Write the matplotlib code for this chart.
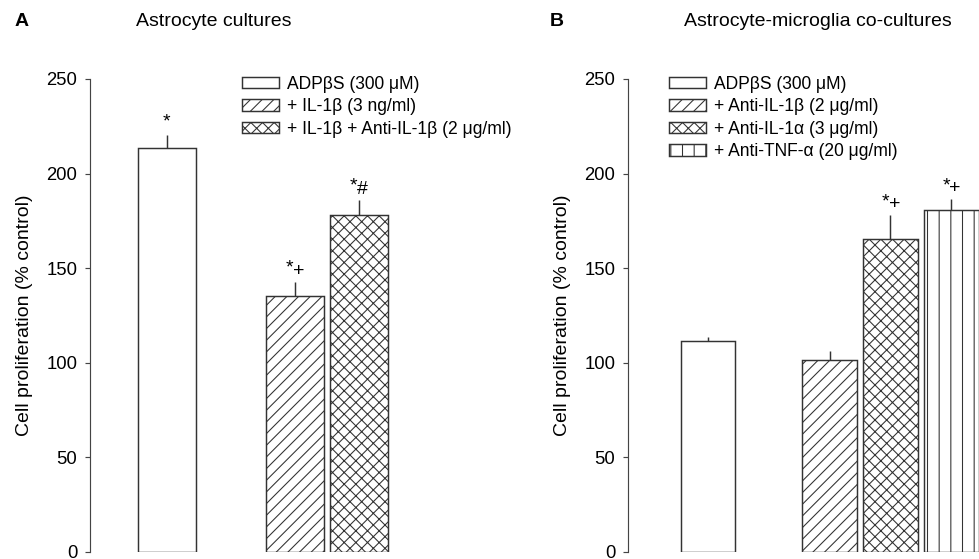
import matplotlib.pyplot as plt
import numpy as np

plt.rcParams['font.family'] = ['Liberation Sans', 'DejaVu Sans']
plt.rcParams['hatch.linewidth'] = 0.55

DPI = 140
W, H = 979, 559

# panel A: astrocyte cultures
a_labels = ['ADPβS (300 μM)', '+ IL-1β (3 ng/ml)', '+ IL-1β + Anti-IL-1β (2 μg/ml)']
a_means = [213.5, 135.3, 178.3]
a_errs = [7.0, 7.5, 8.0]
a_marks = ['*', '*+', '*#']

# panel B: astrocyte-microglia co-cultures
b_labels = ['ADPβS (300 μM)', '+ Anti-IL-1β (2 μg/ml)', '+ Anti-IL-1α (3 μg/ml)',
            '+ Anti-TNF-α (20 μg/ml)']
b_means = [111.5, 101.5, 165.5, 180.5]
b_errs = [2.0, 5.0, 12.5, 6.0]
b_marks = ['', '', '*+', '*+']

hatches = ['', '////', 'xxxx', '||']
edge = '#333333'


def px(x, y):
    return x / W, 1 - y / H


def mark(ax, x, top, text):
    if not text:
        return
    kw = dict(textcoords='offset pixels', va='baseline', fontsize=10, color='black')
    if len(text) == 1:
        ax.annotate(text, (x, top), xytext=(0, 8), ha='center', **kw)
    else:
        ax.annotate(text[0], (x, top), xytext=(-5, 9), ha='center', **kw)
        ax.annotate(text[1], (x, top), xytext=(4, 6), ha='center', **kw)


def panel(rect, xlim, means, errs, labels, marks, leg_x):
    ax = fig.add_axes(rect)
    n = len(means)
    pos = np.r_[0, np.arange(2, n + 1)]
    bars = ax.bar(pos, means, width=0.9, color='white', edgecolor=edge, linewidth=0.75,
                  hatch=hatches[:n], yerr=[np.zeros(n), errs],
                  error_kw=dict(ecolor=edge, elinewidth=0.75, capsize=0))
    for p, m, e, t in zip(pos, means, errs, marks):
        mark(ax, p, m + e, t)
    ax.set_xlim(*xlim)
    ax.set_ylim(0, 250)
    ax.set_yticks(range(0, 251, 50))
    ax.set_xticks([])
    for s in ['top', 'right', 'bottom']:
        ax.spines[s].set_visible(False)
    ax.spines['left'].set_color('#444444')
    ax.spines['left'].set_linewidth(0.6)
    ax.tick_params(axis='y', length=2.6, width=0.6, color='#444444', pad=4, labelsize=9.5)
    ax.set_ylabel('Cell proliferation (% control)', fontsize=10, labelpad=7)
    ax.legend(bars.patches, labels, loc='upper left', bbox_to_anchor=(leg_x, 1.007),
              frameon=False, fontsize=9, borderpad=0, borderaxespad=0,
              handlelength=2.1, handleheight=0.65, handletextpad=0.45, labelspacing=0.31)
    return ax


fig = plt.figure(figsize=(W / DPI, H / DPI), dpi=DPI)

panel([90 / W, 7 / H, 360 / W, 473 / H], (-1.2, 4.425),
      a_means, a_errs, a_labels, a_marks, 0.422)
panel([628 / W, 7 / H, 351 / W, 473 / H], (-1.316, 4.457),
      b_means, b_errs, b_labels, b_marks, 0.117)

fig.text(*px(214, 21), 'Astrocyte cultures', ha='center', va='center', fontsize=10)
fig.text(*px(818, 21), 'Astrocyte-microglia co-cultures', ha='center', va='center', fontsize=10)
fig.text(*px(22, 22), 'A', ha='center', va='center', fontsize=10, fontweight='bold')
fig.text(*px(557, 22), 'B', ha='center', va='center', fontsize=10, fontweight='bold')

fig.savefig('out.png', dpi=DPI)
